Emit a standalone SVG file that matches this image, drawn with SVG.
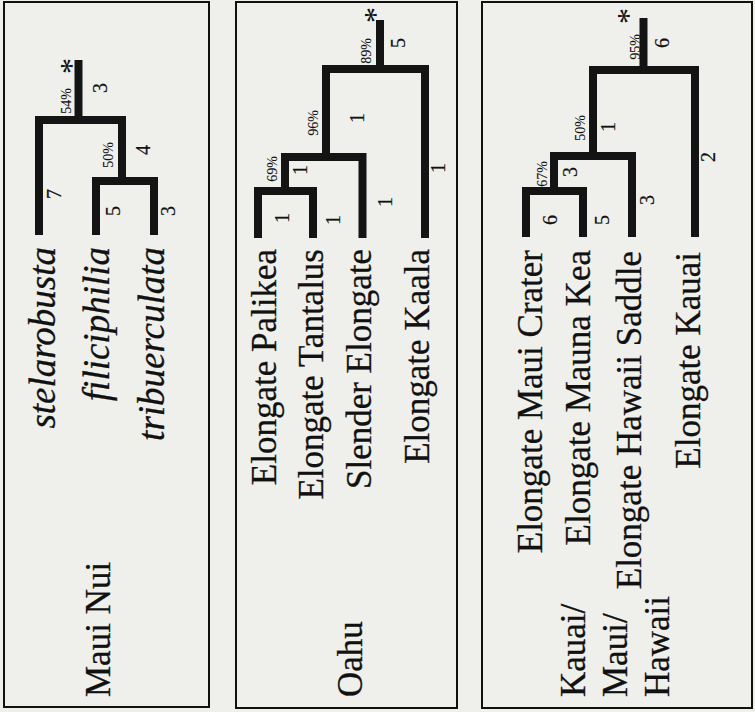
<svg xmlns="http://www.w3.org/2000/svg" width="755" height="712" viewBox="0 0 755 712">
  <style>
    .panel { fill: #efefeb; stroke: #111; stroke-width: 2; }
    .br { fill: none; stroke: #141414; stroke-width: 8; stroke-linejoin: miter; stroke-linecap: butt; }
    text { font-family: "Liberation Serif", "Times New Roman", serif; fill: #111; stroke: #111; stroke-width: 0.3; }
    .taxon { font-size: 35px; text-anchor: end; }
    .taxon.it { font-style: italic; font-size: 37px; }
    .region { font-size: 35px; text-anchor: start; }
    .num { font-size: 20px; text-anchor: middle; dominant-baseline: central; stroke-width: 0.2; }
    .pct { font-size: 14px; text-anchor: middle; dominant-baseline: central; stroke-width: 0.1; }
    .star { font-size: 32px; text-anchor: middle; dominant-baseline: central; stroke-width: 0; }
  </style>
  <rect width="755" height="712" fill="#efefeb"/>

  <!-- panel frames -->
  <g id="frames">
    <rect class="panel" x="4" y="2" width="205" height="705"/>
    <rect class="panel" x="236" y="2" width="221" height="706"/>
    <rect class="panel" x="482" y="2" width="270" height="706"/>
  </g>

  <!-- branches -->
  <g id="connectors">
    <!-- Maui Nui -->
    <path class="br" d="M78.5 60 V120"/>
    <path class="br" d="M39 235 V120 H122 V181"/>
    <path class="br" d="M96 235 V181 H154 V235"/>
    <!-- Oahu -->
    <path class="br" d="M380 20 V69"/>
    <path class="br" d="M326 157 V69 H425 V238"/>
    <path class="br" d="M285 191 V157 H362.5 V238"/>
    <path class="br" d="M258 238 V191 H313 V238"/>
    <!-- Kauai / Maui / Hawaii -->
    <path class="br" d="M643.5 18 V70"/>
    <path class="br" d="M593 156 V70 H695 V237"/>
    <path class="br" d="M554 191 V156 H632 V237"/>
    <path class="br" d="M526 237 V191 H583 V237"/>
  </g>

  <!-- panel 1: Maui Nui -->
  <g id="maui-nui">
    <text class="taxon it" transform="translate(55,247) rotate(-90)">stelarobusta</text>
    <text class="taxon it" transform="translate(109,247) rotate(-90)">filiciphilia</text>
    <text class="taxon it" transform="translate(164,247) rotate(-90)">tribuerculata</text>
    <text class="region" transform="translate(110,697) rotate(-90)">Maui Nui</text>
    <text class="star" transform="translate(71,66) rotate(-90)">*</text>
    <text class="pct" transform="translate(66,101) rotate(-90)">54%</text>
    <text class="num" transform="translate(100,88) rotate(-90)">3</text>
    <text class="pct" transform="translate(108,155) rotate(-90)">50%</text>
    <text class="num" transform="translate(143,150) rotate(-90)">4</text>
    <text class="num" transform="translate(54,194) rotate(-90)">7</text>
    <text class="num" transform="translate(113,211) rotate(-90)">5</text>
    <text class="num" transform="translate(168,211) rotate(-90)">3</text>
  </g>

  <!-- panel 2: Oahu -->
  <g id="oahu">
    <text class="taxon" transform="translate(276,249) rotate(-90)">Elongate Palikea</text>
    <text class="taxon" transform="translate(323,249) rotate(-90)">Elongate Tantalus</text>
    <text class="taxon" transform="translate(371,249) rotate(-90)">Slender Elongate</text>
    <text class="taxon" transform="translate(429,249) rotate(-90)">Elongate Kaala</text>
    <text class="region" transform="translate(362,697) rotate(-90)">Oahu</text>
    <text class="star" transform="translate(375,15) rotate(-90)">*</text>
    <text class="pct" transform="translate(366,51) rotate(-90)">89%</text>
    <text class="num" transform="translate(398,43) rotate(-90)">5</text>
    <text class="pct" transform="translate(313,123) rotate(-90)">96%</text>
    <text class="num" transform="translate(357,118) rotate(-90)">1</text>
    <text class="pct" transform="translate(272,169) rotate(-90)">69%</text>
    <text class="num" transform="translate(300,170) rotate(-90)">1</text>
    <text class="num" transform="translate(282,218) rotate(-90)">1</text>
    <text class="num" transform="translate(333,220) rotate(-90)">1</text>
    <text class="num" transform="translate(385,202) rotate(-90)">1</text>
    <text class="num" transform="translate(438,168) rotate(-90)">1</text>
  </g>

  <!-- panel 3: Kauai / Maui / Hawaii -->
  <g id="kauai-maui-hawaii">
    <text class="taxon" transform="translate(542,250) rotate(-90)">Elongate Maui Crater</text>
    <text class="taxon" transform="translate(590,250) rotate(-90)">Elongate Mauna Kea</text>
    <text class="taxon" transform="translate(641,251) rotate(-90)">Elongate Hawaii Saddle</text>
    <text class="taxon" transform="translate(700,252) rotate(-90)">Elongate Kauai</text>
    <text class="region" transform="translate(585,697) rotate(-90)">Kauai/</text>
    <text class="region" transform="translate(627,697) rotate(-90)">Maui/</text>
    <text class="region" transform="translate(669,697) rotate(-90)">Hawaii</text>
    <text class="star" transform="translate(628,16) rotate(-90)">*</text>
    <text class="pct" transform="translate(635,47) rotate(-90)">95%</text>
    <text class="num" transform="translate(662,43) rotate(-90)">6</text>
    <text class="pct" transform="translate(580,128) rotate(-90)">50%</text>
    <text class="num" transform="translate(608,127) rotate(-90)">1</text>
    <text class="pct" transform="translate(542,174) rotate(-90)">67%</text>
    <text class="num" transform="translate(570,172) rotate(-90)">3</text>
    <text class="num" transform="translate(550,220) rotate(-90)">6</text>
    <text class="num" transform="translate(602,220) rotate(-90)">5</text>
    <text class="num" transform="translate(647,200) rotate(-90)">3</text>
    <text class="num" transform="translate(708,157) rotate(-90)">2</text>
  </g>
</svg>
